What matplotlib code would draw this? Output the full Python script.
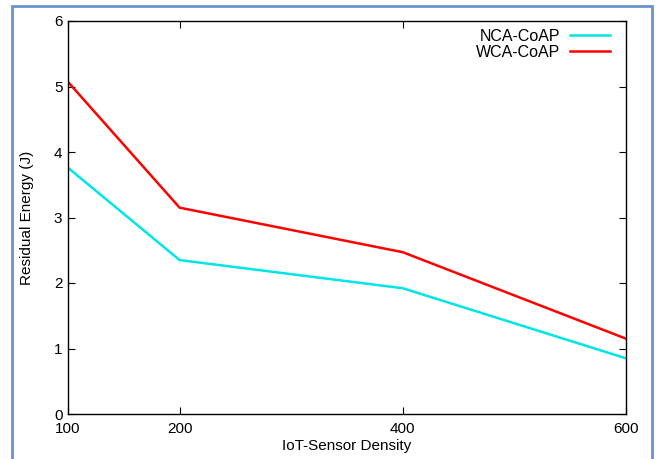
import matplotlib
matplotlib.use("Agg")
import matplotlib.pyplot as plt
from matplotlib.patches import Rectangle

plt.rcParams['font.family'] = ['Liberation Sans', 'DejaVu Sans']

# 数据
density = [100, 200, 400, 600]
nca_coap = [3.76, 2.35, 1.92, 0.85]
wca_coap = [5.07, 3.15, 2.47, 1.15]
x_ticks = [100, 200, 400, 600]
y_ticks = [0, 1, 2, 3, 4, 5, 6]

fig = plt.figure(figsize=(6.56, 4.59), dpi=100)
ax = fig.add_axes([68/656, 1-414/459, (626-68)/656, (414-21)/459])

ax.plot(density, nca_coap, color="#00e5e5", linewidth=1.8, label="NCA-CoAP")
ax.plot(density, wca_coap, color="#ff0000", linewidth=1.8, label="WCA-CoAP")

ax.set_xlim(100, 600)
ax.set_ylim(0, 6)
ax.set_xticks(x_ticks)
ax.set_yticks(y_ticks)
ax.tick_params(axis="both", direction="in", top=True, right=True,
               length=5, width=0.8, labelsize=11)
ax.tick_params(axis="x", pad=6)
ax.tick_params(axis="y", pad=4)
for s in ax.spines.values():
    s.set_linewidth(1.0)

ax.set_xlabel("IoT-Sensor Density", fontsize=11, labelpad=2)
ax.set_ylabel("Residual Energy (J)", fontsize=11, labelpad=14)

# 图例（文字在左，线在右）
leg = ax.legend(loc="upper right", frameon=False, fontsize=11.5,
                markerfirst=False, handlelength=2.5, handletextpad=0.6,
                labelspacing=0.05, borderaxespad=0.1,
                bbox_to_anchor=(0.985, 1.0))

# 外面的蓝色边框
fig.patches.append(Rectangle((12/656, -0.05), (652-12)/656, 1-6/459+0.05,
                             transform=fig.transFigure, fill=False,
                             edgecolor="#6a93cc", linewidth=2.0))

plt.savefig("out.png", dpi=100)
